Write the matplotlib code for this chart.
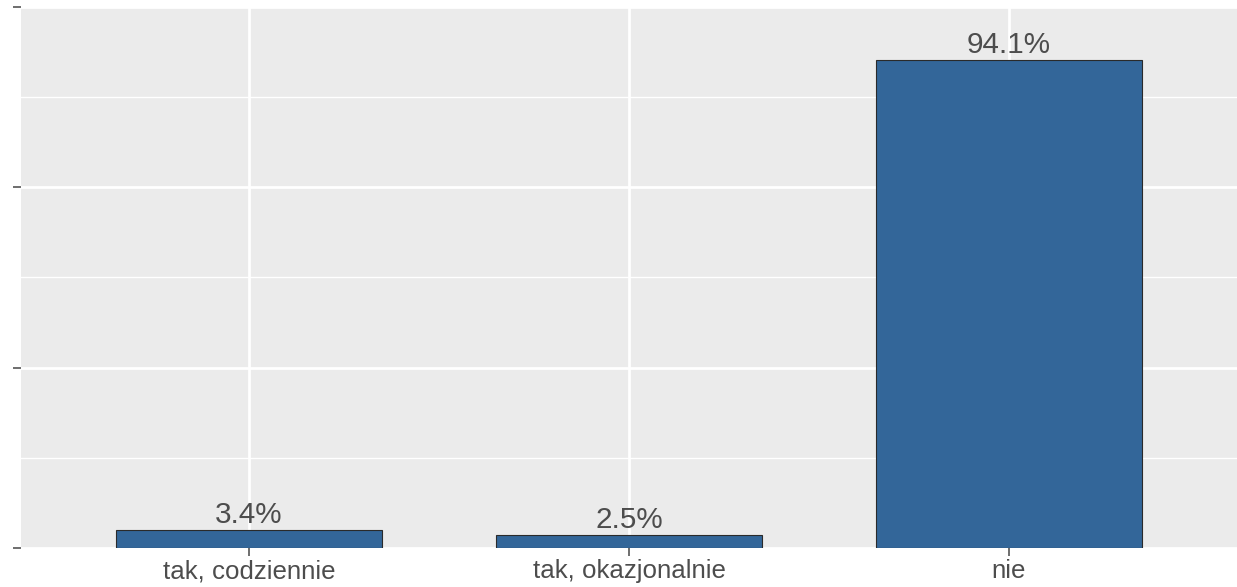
import numpy as np
import matplotlib.pyplot as plt

# data
categories = ['tak, codziennie', 'tak, okazjonalnie', 'nie']
shares = [3.4, 2.5, 94.1]
bar_labels = ['3.4%', '2.5%', '94.1%']

plt.rcParams['font.family'] = ['Liberation Sans', 'DejaVu Sans']

fig = plt.figure(figsize=(12.37, 5.87), dpi=100)
ax = fig.add_axes([21/1237, 39/587, 1 - 21/1237, (548 - 7)/587])

x = np.arange(1, len(categories) + 1)
ymax = 104.3

ax.set_facecolor('#EBEBEB')
ax.bar(x, shares, width=0.7, color='#336699', edgecolor='#2a2a2a', linewidth=0.8, zorder=3)

for xi, v, lab in zip(x, shares, bar_labels):
    ax.text(xi, v + 0.2, lab, ha='center', va='bottom', fontsize=21.3, color='#4D4D4D', zorder=4)

# grid
major = np.linspace(0, ymax, 4)
ax.set_yticks(major)
ax.set_yticks((major[:-1] + major[1:]) / 2, minor=True)
ax.set_yticklabels([])
ax.set_xticks(x)
ax.set_xticklabels(categories, fontsize=18.6, color='#4D4D4D')
ax.grid(which='major', color='white', linewidth=2, zorder=1)
ax.grid(which='minor', axis='y', color='white', linewidth=1, zorder=1)
ax.tick_params(axis='both', which='major', length=6, width=1.2, color='#555555', pad=2)
ax.tick_params(axis='y', which='minor', length=0)

ax.set_xlim(0.4, 3.6)
ax.set_ylim(0, ymax)
for s in ax.spines.values():
    s.set_visible(False)
ax.set_axisbelow(True)

fig.savefig('out.png', dpi=100)
